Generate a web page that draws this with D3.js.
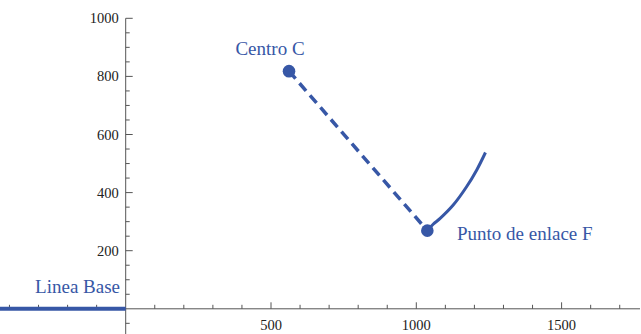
<!DOCTYPE html>
<html lang="en">
<head>
<meta charset="UTF-8">
<script src="https://cdn.jsdelivr.net/npm/d3@7/dist/d3.min.js"></script>
<style>
  body { margin: 0; background: #fff; }
</style>
</head>
<body>
<script>
// values (same units on both axes)
const xMajorTicks = [500, 1000, 1500];
const yMajorTicks = [200, 400, 600, 800, 1000];
const centroC = [562, 818];
const puntoF = [1038, 269];
const arcX = [1038, 1058, 1082, 1127, 1173, 1208, 1238];
const arcY = [269, 291, 311, 357, 420, 478, 538];
const baseX = [-440, 0];
const baseY = [0, 0];

const W = 641, H = 334;
const blue = "#3757a6";
const axisCol = "#555";
const serif = "Liberation Serif";

const x = d3.scaleLinear().domain([0, 1000]).range([125.7, 416.3]);
const y = d3.scaleLinear().domain([0, 1000]).range([308.8, 18.3]);

const svg = d3.select("body").append("svg").attr("width", W).attr("height", H)
  .style("font-family", serif, "important");

// minor ticks
const xMinor = d3.range(-400, 1800, 100).filter(v => v !== 0 && v % 500 !== 0);
const yMinor = d3.range(-50, 1001, 50).filter(v => v !== 0 && v % 200 !== 0);

// x axis
svg.append("line").attr("x1", 0).attr("x2", 640).attr("y1", y(0)).attr("y2", y(0))
  .attr("stroke", axisCol).attr("stroke-width", 1);
svg.selectAll(".xminor").data(xMinor).join("line")
  .attr("x1", d => x(d)).attr("x2", d => x(d))
  .attr("y1", y(0)).attr("y2", y(0) - 4)
  .attr("stroke", axisCol).attr("stroke-width", 1);
svg.selectAll(".xmajor").data(xMajorTicks).join("line")
  .attr("x1", d => x(d)).attr("x2", d => x(d))
  .attr("y1", y(0)).attr("y2", y(0) - 6.5)
  .attr("stroke", axisCol).attr("stroke-width", 1);
svg.selectAll(".xlab").data(xMajorTicks).join("text")
  .attr("x", d => x(d)).attr("y", y(0) + 21)
  .attr("text-anchor", "middle").attr("font-size", 14.5).attr("fill", "#222")
  .style("font-family", serif, "important")
  .text(d => d);

// y axis
svg.append("line").attr("x1", x(0)).attr("x2", x(0)).attr("y1", y(1000)).attr("y2", H)
  .attr("stroke", axisCol).attr("stroke-width", 1);
svg.selectAll(".yminor").data(yMinor).join("line")
  .attr("x1", x(0)).attr("x2", x(0) + 4)
  .attr("y1", d => y(d)).attr("y2", d => y(d))
  .attr("stroke", axisCol).attr("stroke-width", 1);
svg.selectAll(".ymajor").data(yMajorTicks).join("line")
  .attr("x1", x(0)).attr("x2", x(0) + 7)
  .attr("y1", d => y(d)).attr("y2", d => y(d))
  .attr("stroke", axisCol).attr("stroke-width", 1);
svg.selectAll(".ylab").data(yMajorTicks).join("text")
  .attr("x", x(0) - 7).attr("y", d => y(d) + 5)
  .attr("text-anchor", "end").attr("font-size", 14.5).attr("fill", "#222")
  .style("font-family", serif, "important")
  .text(d => d);

// linea base
const line = d3.line().x(d => x(d[0])).y(d => y(d[1]));
svg.append("path").datum(d3.zip(baseX, baseY)).attr("d", line)
  .attr("fill", "none").attr("stroke", blue).attr("stroke-width", 4);

// dashed C -> F
svg.append("path").datum([centroC, puntoF]).attr("d", line)
  .attr("fill", "none").attr("stroke", blue).attr("stroke-width", 3.5)
  .attr("stroke-dasharray", "10,6");

// arc from F
svg.append("path").datum(d3.zip(arcX, arcY))
  .attr("d", line.curve(d3.curveCatmullRom))
  .attr("fill", "none").attr("stroke", blue).attr("stroke-width", 3);

// points
svg.selectAll(".pt").data([centroC, puntoF]).join("circle")
  .attr("cx", d => x(d[0])).attr("cy", d => y(d[1])).attr("r", 6.3)
  .attr("fill", blue);

// annotations
const labels = [
  {t: "Centro C", x: 270, y: 55, a: "middle"},
  {t: "Punto de enlace F", x: 457, y: 240, a: "start"},
  {t: "Linea Base", x: 120, y: 293, a: "end"}
];
svg.selectAll(".lab").data(labels).join("text")
  .attr("x", d => d.x).attr("y", d => d.y).attr("text-anchor", d => d.a)
  .attr("font-size", 19).attr("fill", blue)
  .style("font-family", serif, "important")
  .text(d => d.t);
</script>
</body>
</html>
